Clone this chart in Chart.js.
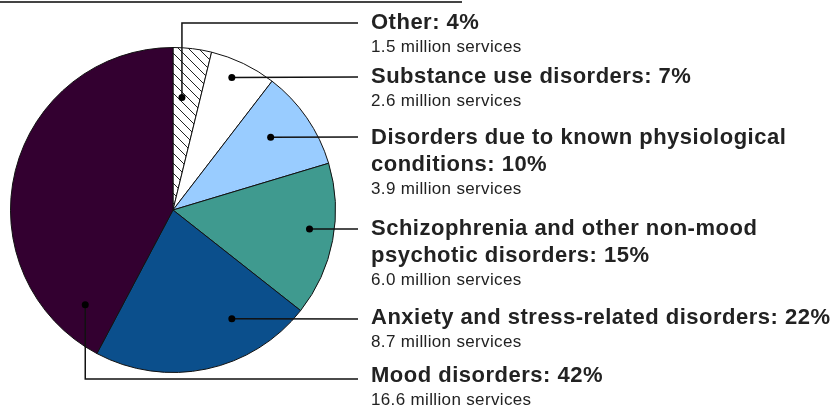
<!DOCTYPE html>
<html>
<head>
<meta charset="utf-8">
<script src="https://cdn.jsdelivr.net/npm/chart.js@4"></script>
<style>
  body { margin: 0; background: #fff; }
  canvas { display: block; }
</style>
</head>
<body>
<canvas id="graficoServicos" width="836" height="410"></canvas>
<script>
// data
const categories = [
    ['Other'],
    ['Substance use disorders'],
    ['Disorders due to known physiological', 'conditions'],
    ['Schizophrenia and other non-mood', 'psychotic disorders'],
    ['Anxiety and stress-related disorders'],
    ['Mood disorders']
];
const servicesMillions = [1.5, 2.6, 3.9, 6.0, 8.7, 16.6];
const percents = [4, 7, 10, 15, 22, 42];

const colors = ['hatch', '#ffffff', '#99ccff', '#3f9a8f', '#0b4f8c', '#330030'];

// hatch pattern for "Other"
function makeHatch() {
    const c = document.createElement('canvas');
    c.width = 10;
    c.height = 10;
    const g = c.getContext('2d');
    g.fillStyle = '#ffffff';
    g.fillRect(0, 0, 10, 10);
    g.strokeStyle = '#222';
    g.lineWidth = 1;
    g.beginPath();
    g.moveTo(-1, -1); g.lineTo(11, 11);
    g.moveTo(-1, 9); g.lineTo(1, 11);
    g.moveTo(9, -1); g.lineTo(11, 1);
    g.stroke();
    return g.createPattern(c, 'repeat');
}

const ctx = document.getElementById('graficoServicos');
const hatch = makeHatch();

// label layout (leader line y, first text baseline, dot position as fraction of radius)
const lineY = [23, 77, 137, 229, 319, 379];
const textY = [29, 83, 144, 235, 324, 382];
const dotFrac = [
    [0.055, -0.693],
    [0.362, -0.816],
    [0.601, -0.448],
    [0.840, 0.117],
    [0.362, 0.669],
    [-0.540, 0.583]
];

const calloutPlugin = {
    id: 'callouts',
    afterDraw(chart) {
        const g = chart.ctx;
        const arcs = chart.getDatasetMeta(0).data;
        g.save();
        // rule at top
        g.strokeStyle = '#444';
        g.lineWidth = 2;
        g.beginPath();
        g.moveTo(0, 2);
        g.lineTo(462, 2);
        g.stroke();

        arcs.forEach(function(arc, i) {
            const r = arc.outerRadius;
            const dx = arc.x + dotFrac[i][0] * r;
            const dy = arc.y + dotFrac[i][1] * r;
            g.strokeStyle = '#111';
            g.lineWidth = 1.5;
            g.beginPath();
            g.moveTo(dx, dy);
            if (Math.abs(dy - lineY[i]) > 2) {
                g.lineTo(dx, lineY[i]);
            }
            g.lineTo(358, lineY[i]);
            g.stroke();
            g.fillStyle = '#000';
            g.beginPath();
            g.arc(dx, dy, 3.5, 0, Math.PI * 2);
            g.fill();

            // texts
            g.fillStyle = '#222';
            g.textBaseline = 'alphabetic';
            g.textAlign = 'left';
            g.font = 'bold 22px "Liberation Sans", Arial, sans-serif';
            g.letterSpacing = '0.5px';
            let y = textY[i];
            const lines = categories[i];
            lines.forEach(function(t, k) {
                const txt = k === lines.length - 1 ? t + ': ' + percents[i] + '%' : t;
                g.fillText(txt, 371, y);
                if (k < lines.length - 1) y += 27;
            });
            g.font = '17px "Liberation Sans", Arial, sans-serif';
            g.letterSpacing = '0.35px';
            g.fillText(servicesMillions[i].toFixed(1) + ' million services', 371, y + 23);
            g.letterSpacing = '0px';
        });
        g.restore();
    }
};

const chart = new Chart(ctx, {
    type: 'pie',
    data: {
        labels: categories.map(function(c){ return c.join(' '); }),
        datasets: [
            {
                data: servicesMillions,
                backgroundColor: colors.map(function(c){ return c === 'hatch' ? hatch : c; }),
                borderColor: '#111',
                borderWidth: 1
            }
        ]
    },
    options: {
        responsive: false,
        animation: false,
        layout: {
            padding: { left: 10, right: 500, top: 47, bottom: 37 }
        },
        plugins: {
            legend: { display: false },
            tooltip: { enabled: false }
        }
    },
    plugins: [calloutPlugin]
});
</script>
</body>
</html>
